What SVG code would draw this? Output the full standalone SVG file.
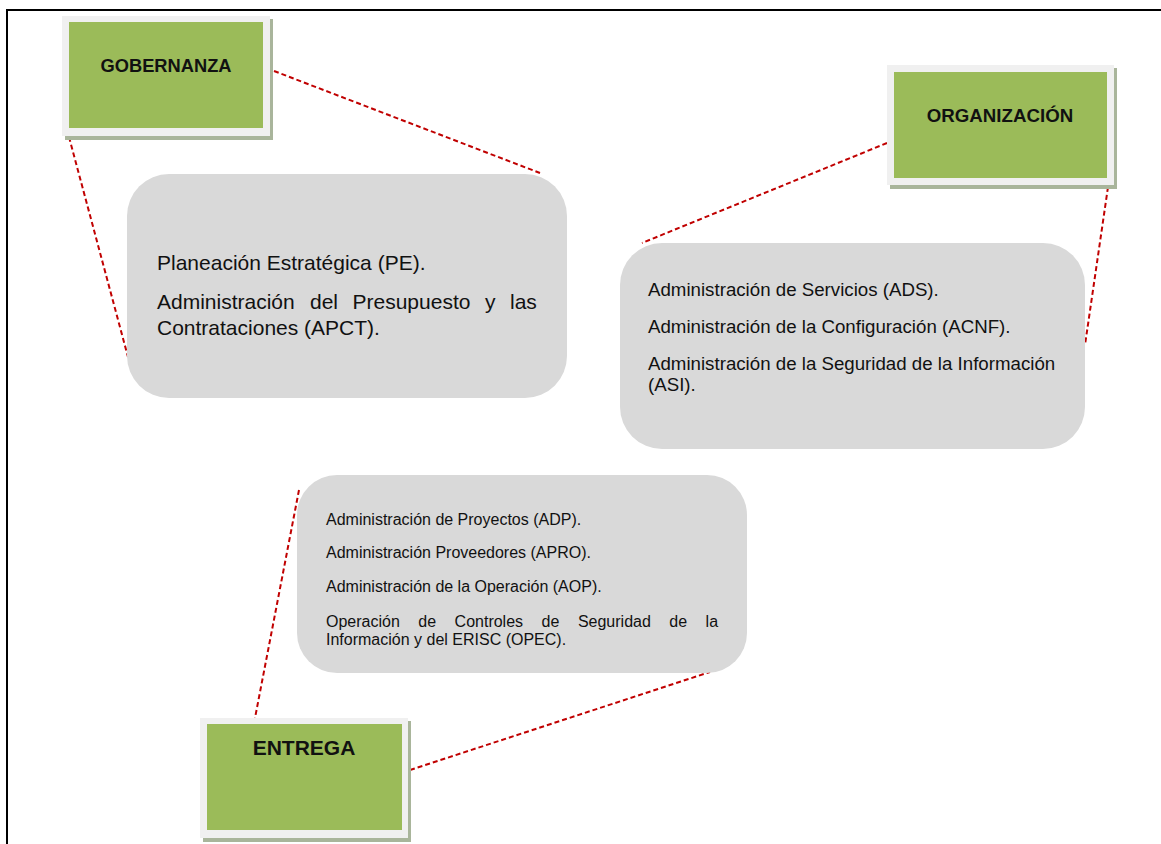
<svg xmlns="http://www.w3.org/2000/svg" width="1161" height="844" viewBox="0 0 1161 844">
<style>
.frame{fill:none;stroke:#000;stroke-width:2}
.conn{fill:none;stroke:#c00000;stroke-width:2;stroke-dasharray:5 3}
.outer{fill:#f0f0f0}
.shadow{fill:#a9b59b}
.green{fill:#9bbb59}
.bubble{fill:#d9d9d9}
.title{font-family:"Liberation Sans",Arial,sans-serif;font-weight:bold;fill:#111;text-anchor:middle}
.t{font-family:"Liberation Sans",Arial,sans-serif;fill:#111}
</style>
<rect width="1161" height="844" fill="#fff"/>
<path class="frame" d="M7,844 V10 H1161"/>
<g id="connectors">
<line class="conn" x1="274" y1="71" x2="540" y2="173"/>
<line class="conn" x1="69" y1="137" x2="128" y2="357"/>
<line class="conn" x1="887" y1="143" x2="642" y2="243"/>
<line class="conn" x1="1108" y1="187" x2="1085" y2="345"/>
<line class="conn" x1="299" y1="490" x2="255" y2="718"/>
<line class="conn" x1="410" y1="770" x2="710" y2="672"/>
</g>
<g id="gobernanza">
<rect class="shadow" x="65" y="19" width="208" height="121"/>
<rect class="outer" x="62" y="16" width="208" height="120"/>
<rect class="green" x="69" y="22" width="194" height="106"/>
<text class="title" x="166" y="72" font-size="18.3">GOBERNANZA</text>
</g>
<g id="organizacion">
<rect class="shadow" x="890" y="68" width="227" height="121"/>
<rect class="outer" x="887" y="65" width="227" height="120"/>
<rect class="green" x="894" y="72" width="213" height="106"/>
<text class="title" x="1000" y="122" font-size="18.7">ORGANIZACIÓN</text>
</g>
<g id="entrega">
<rect class="shadow" x="203" y="721" width="208" height="121"/>
<rect class="outer" x="200" y="718" width="208" height="120"/>
<rect class="green" x="207" y="724" width="195" height="106"/>
<text class="title" x="304" y="755" font-size="21">ENTREGA</text>
</g>
<g id="box-gobernanza">
<rect class="bubble" x="127" y="174" width="440" height="224" rx="42"/>
<text class="t" font-size="21" x="157" y="270">Planeación Estratégica (PE).</text>
<text class="t" font-size="21" y="309"><tspan x="157">Administración</tspan><tspan x="310">del</tspan><tspan x="352.5">Presupuesto</tspan><tspan x="485">y</tspan><tspan x="510">las</tspan></text>
<text class="t" font-size="21" x="157" y="335">Contrataciones (APCT).</text>
</g>
<g id="box-organizacion">
<rect class="bubble" x="620" y="243" width="465" height="206" rx="42"/>
<text class="t" font-size="18.7" x="648" y="296">Administración de Servicios (ADS).</text>
<text class="t" font-size="18.7" x="648" y="333">Administración de la Configuración (ACNF).</text>
<text class="t" font-size="18.7" x="648" y="370">Administración de la Seguridad de la Información</text>
<text class="t" font-size="18.7" x="648" y="391">(ASI).</text>
</g>
<g id="box-entrega">
<rect class="bubble" x="297" y="475" width="450" height="198" rx="40"/>
<text class="t" font-size="16" x="326" y="525">Administración de Proyectos (ADP).</text>
<text class="t" font-size="16" x="326" y="558">Administración Proveedores (APRO).</text>
<text class="t" font-size="16" x="326" y="592">Administración de la Operación (AOP).</text>
<text class="t" font-size="16" y="627"><tspan x="326">Operación</tspan><tspan x="418.3">de</tspan><tspan x="454.6">Controles</tspan><tspan x="541.6">de</tspan><tspan x="577.9">Seguridad</tspan><tspan x="669.3">de</tspan><tspan x="705.6">la</tspan></text>
<text class="t" font-size="16" x="326" y="645">Información y del ERISC (OPEC).</text>
</g>
</svg>
